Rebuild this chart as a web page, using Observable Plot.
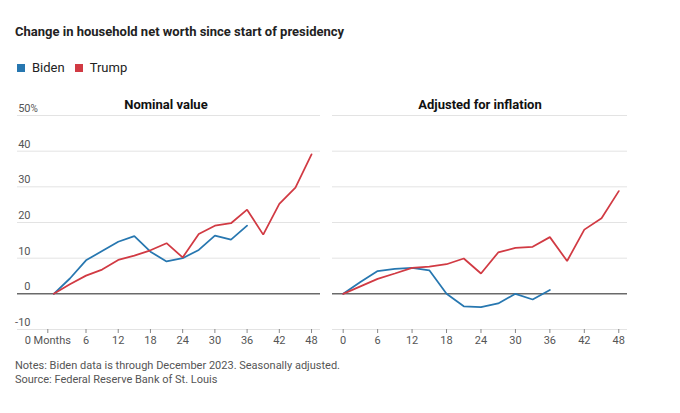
<!DOCTYPE html>
<html>
<head>
<meta charset="utf-8">
<script src="https://cdn.jsdelivr.net/npm/d3@7"></script>
<script src="https://cdn.jsdelivr.net/npm/@observablehq/plot@0.6"></script>
<style>
  body { margin: 0; background: #fff; font-family: Roboto, sans-serif; }
  #wrap { position: relative; width: 680px; height: 413px; overflow: hidden; }
  #title { position: absolute; left: 15px; top: 24px; font-size: 13px; line-height: 16px; font-weight: 700; color: #222; white-space: nowrap; }
  #legend { position: absolute; left: 17px; top: 60px; display: flex; align-items: center; font-size: 13px; line-height: 16px; color: #222; }
  #legend .sw { width: 8px; height: 8px; display: inline-block; margin-right: 7px; }
  #legend .item { display: flex; align-items: center; margin-right: 10px; }
  #left { position: absolute; left: 0; top: 85px; }
  #right { position: absolute; left: 326px; top: 85px; }
  #notes { position: absolute; left: 15px; top: 359px; font-size: 11px; line-height: 14px; color: #555; white-space: nowrap; }
</style>
</head>
<body>
<div id="wrap">
  <div id="title">Change in household net worth since start of presidency</div>
  <div id="legend"></div>
  <div id="left"></div>
  <div id="right"></div>
  <div id="notes">Notes: Biden data is through December 2023. Seasonally adjusted.<br>Source: Federal Reserve Bank of St. Louis</div>
</div>
<script>
// ---- data ----
const monthsTrump = [0, 3, 6, 9, 12, 15, 18, 21, 24, 27, 30, 33, 36, 39, 42, 45, 48];
const monthsBiden = [0, 3, 6, 9, 12, 15, 18, 21, 24, 27, 30, 33, 36];
const bidenNominal = [0, 4.3, 9.4, 12.0, 14.6, 16.2, 11.8, 9.1, 10.0, 12.3, 16.3, 15.2, 19.1];
const trumpNominal = [0, 2.7, 5.1, 6.8, 9.5, 10.7, 12.2, 14.2, 10.2, 16.8, 19.1, 19.8, 23.6, 16.6, 25.2, 29.8, 39.1];
const bidenReal = [0, 3.3, 6.4, 7.0, 7.3, 6.6, 0, -3.5, -3.7, -2.7, 0, -1.6, 1.1];
const trumpReal = [0, 2.1, 4.2, 5.7, 7.3, 7.6, 8.3, 9.9, 5.7, 11.6, 12.9, 13.2, 15.9, 9.2, 18.0, 21.2, 28.8];
const seriesNames = ["Biden", "Trump"];
const seriesColors = ["#2777b0", "#d13a43"];
const xTicks = [6, 12, 18, 24, 30, 36, 42, 48];
const xFirstTick = [0];
const yGrid = [-10, 10, 20, 30, 40, 50];
const yLabels = [-10, 0, 10, 20, 30, 40, 50];
const yPercentAt = [50];
const panelTitles = ["Nominal value", "Adjusted for inflation"];

// ---- legend ----
const legend = document.getElementById("legend");
seriesNames.forEach((n, i) => {
  const it = document.createElement("span");
  it.className = "item";
  it.innerHTML = `<span class="sw" style="background:${seriesColors[i]}"></span>${n}`;
  legend.appendChild(it);
});

function rowsFor(bVals, tVals) {
  const rows = [];
  monthsBiden.forEach((m, i) => rows.push({month: m, value: bVals[i], who: "Biden"}));
  monthsTrump.forEach((m, i) => rows.push({month: m, value: tVals[i], who: "Trump"}));
  return rows;
}

function panel({title, rows, width, marginLeft, marginRight, xDomain, showY, firstLabel, firstDx, titleDx}) {
  const tickFont = 11;
  return Plot.plot({
    width, height: 267,
    marginTop: 30, marginBottom: 23, marginLeft, marginRight,
    x: {domain: xDomain},
    y: {domain: [-10, 50], axis: null},
    color: {domain: seriesNames, range: seriesColors},
    style: {fontFamily: "Roboto, sans-serif", background: "transparent", overflow: "visible"},
    marks: [
      Plot.ruleY(yGrid, {stroke: "#e3e3e3", strokeWidth: 1}),
      Plot.ruleY([0], {stroke: "#6a6a6a", strokeWidth: 1.5}),
      showY ? Plot.text(yLabels, {y: d => d, text: d => String(d), frameAnchor: "left", dx: 13, dy: -7, textAnchor: "end", fontSize: tickFont, fill: "#555"}) : null,
      showY ? Plot.text(yPercentAt, {y: d => d, text: () => "%", frameAnchor: "left", dx: 13, dy: -7, textAnchor: "start", fontSize: tickFont - 1, fill: "#555"}) : null,
      Plot.axisX(xTicks, {tickSize: 4, tickPadding: 3, fontSize: tickFont, color: "#555", stroke: "#888", label: null}),
      Plot.axisX(xFirstTick, {tickSize: 4, tickPadding: 3, fontSize: tickFont, color: "#555", stroke: "#888", label: null, dx: firstDx, tickFormat: () => firstLabel}),
      Plot.line(rows, {x: "month", y: "value", stroke: "who", strokeWidth: 1.75, strokeLinejoin: "miter"}),
      Plot.text([title], {frameAnchor: "top", dy: -16, dx: titleDx, fontSize: 13, fontWeight: "bold", fill: "#111"})
    ]
  });
}

document.getElementById("left").appendChild(panel({
  title: panelTitles[0],
  rows: rowsFor(bidenNominal, trumpNominal),
  width: 326, marginLeft: 17, marginRight: 6,
  xDomain: [-6.76, 49.67], showY: true,
  firstLabel: "0 Months", firstDx: -6, titleDx: -3
}));

document.getElementById("right").appendChild(panel({
  title: panelTitles[1],
  rows: rowsFor(bidenReal, trumpReal),
  width: 354, marginLeft: 6, marginRight: 53,
  xDomain: [-1.86, 49.52], showY: false,
  firstLabel: "0", firstDx: 0, titleDx: 0
}));
</script>
</body>
</html>
